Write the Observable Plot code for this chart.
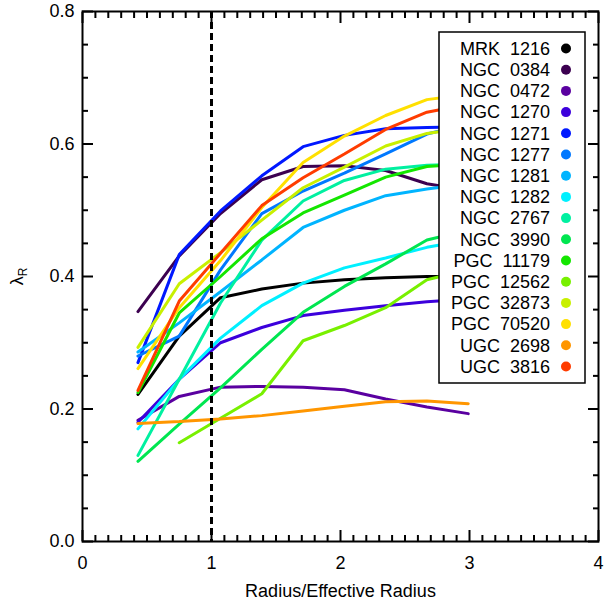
<!DOCTYPE html>
<html><head><meta charset="utf-8">
<script src="https://cdn.jsdelivr.net/npm/d3@7"></script>
<script src="https://cdn.jsdelivr.net/npm/@observablehq/plot@0.6"></script>
<style>body{margin:0;background:#fff}</style>
</head><body><div id="chart"></div>
<script>
// ---- data ----
const galaxies = ["MRK  1216","NGC  0384","NGC  0472","NGC  1270","NGC  1271","NGC  1277","NGC  1281","NGC  1282",
  "NGC  2767","NGC  3990","PGC  11179","PGC  12562","PGC  32873","PGC  70520","UGC  2698","UGC  3816"];
const colors = ["#000000","#3c0050","#5a00a0","#3c00dc","#0018ff","#0078ff","#00b4ff","#00f0ff",
  "#00f0a0","#00e650","#14e600","#78f000","#c8f000","#ffe000","#ff9600","#ff3c00"];
const radius = [0.43, 0.75, 1.07, 1.39, 1.71, 2.03, 2.35, 2.67, 2.99];
const mrk1216  = [0.222, 0.310, 0.368, 0.381, 0.390, 0.395, 0.398, 0.400, 0.400];
const ngc0384  = [0.347, 0.431, 0.495, 0.546, 0.566, 0.567, 0.560, 0.540, 0.530];
const ngc0472  = [0.183, 0.219, 0.233, 0.234, 0.233, 0.229, 0.215, 0.203, 0.193];
const ngc1270  = [0.180, 0.245, 0.300, 0.323, 0.341, 0.349, 0.356, 0.362, 0.366];
const ngc1271  = [0.270, 0.433, 0.499, 0.552, 0.596, 0.613, 0.623, 0.625, 0.626];
const ngc1277  = [0.280, 0.310, 0.410, 0.495, 0.529, 0.556, 0.585, 0.615, 0.630];
const ngc1281  = [0.286, 0.330, 0.377, 0.425, 0.474, 0.500, 0.522, 0.532, 0.540];
const ngc1282  = [0.170, 0.245, 0.307, 0.356, 0.390, 0.413, 0.428, 0.444, 0.455];
const ngc2767  = [0.130, 0.245, 0.360, 0.455, 0.514, 0.545, 0.562, 0.568, 0.570];
const ngc3990  = [0.121, 0.177, 0.232, 0.290, 0.346, 0.385, 0.419, 0.455, 0.470];
const pgc11179 = [0.225, 0.345, 0.400, 0.457, 0.496, 0.523, 0.550, 0.566, 0.570];
const pgc12562 = [null,  0.149, 0.186, 0.223, 0.303, 0.326, 0.353, 0.395, 0.410];
const pgc32873 = [0.293, 0.389, 0.436, 0.485, 0.534, 0.565, 0.597, 0.616, 0.625];
const pgc70520 = [0.261, 0.353, 0.424, 0.504, 0.572, 0.612, 0.643, 0.667, 0.675];
const ugc2698  = [0.178, 0.181, 0.185, 0.190, 0.197, 0.204, 0.211, 0.212, 0.208];
const ugc3816  = [0.228, 0.363, 0.435, 0.507, 0.549, 0.585, 0.622, 0.648, 0.660];
const series = [mrk1216, ngc0384, ngc0472, ngc1270, ngc1271, ngc1277, ngc1281, ngc1282,
  ngc2767, ngc3990, pgc11179, pgc12562, pgc32873, pgc70520, ugc2698, ugc3816];
const effRadius = [1];
const xTicks = [0, 1, 2, 3, 4];
const yTicks = [0, 0.2, 0.4, 0.6, 0.8];
const xMinor = d3.range(1, 40).map(d => d / 10).filter(d => Math.abs(d - Math.round(d)) > 1e-9);
const yMinor = d3.range(1, 16).filter(i => i % 4 !== 0).map(i => i / 20);

// ---- layout ----
const W = 604, H = 604, mL = 82, mR = 6, mT = 11, mB = 63;
const FONT = "'Liberation Sans', Arial, sans-serif";

const rows = [];
series.forEach((s, i) => s.forEach((v, j) => { if (v != null) rows.push({galaxy: galaxies[i], r: radius[j], lam: v}); }));

const noText = () => "";
const tk = {stroke: "black", strokeWidth: 2, label: null, tickFormat: noText};
const plot = Plot.plot({
  width: W, height: H, marginLeft: mL, marginRight: mR, marginTop: mT, marginBottom: mB,
  style: {fontFamily: FONT, fontSize: "18px", background: "#fff", color: "#000"},
  x: {domain: [0, 4]},
  y: {domain: [0, 0.8]},
  color: {domain: galaxies, range: colors},
  marks: [
    Plot.line(rows, {x: "r", y: "lam", z: "galaxy", stroke: "galaxy", strokeWidth: 3, strokeLinejoin: "miter"}),
    Plot.ruleX(effRadius, {x: d => d, stroke: "#000", strokeWidth: 3, strokeDasharray: "7,4"}),
    // inward ticks on all four sides (negative tick size points them into the frame)
    Plot.axisX({anchor: "bottom", ticks: xMinor, tickSize: -6, ...tk}),
    Plot.axisX({anchor: "bottom", ticks: xTicks, tickSize: -11, ...tk}),
    Plot.axisX({anchor: "top", ticks: xMinor, tickSize: -6, ...tk}),
    Plot.axisX({anchor: "top", ticks: xTicks, tickSize: -11, ...tk}),
    Plot.axisY({anchor: "left", ticks: yMinor, tickSize: -6, ...tk}),
    Plot.axisY({anchor: "left", ticks: yTicks, tickSize: -11, ...tk}),
    Plot.axisY({anchor: "right", ticks: yMinor, tickSize: -6, ...tk}),
    Plot.axisY({anchor: "right", ticks: yTicks, tickSize: -11, ...tk}),
    // tick labels and axis titles
    Plot.axisX({anchor: "bottom", ticks: xTicks, tickSize: 0, tickPadding: 15, tickFormat: d3.format("d"),
      label: "Radius/Effective Radius", labelAnchor: "center", labelOffset: 55}),
    Plot.axisY({anchor: "left", ticks: yTicks, tickSize: 0, tickPadding: 8, tickFormat: d3.format(".1f"),
      label: "λ", labelAnchor: "center", labelOffset: 72}),
    Plot.frame({stroke: "#000", strokeWidth: 2})
  ]
});

document.getElementById("chart").appendChild(plot);
const svg = d3.select(plot.tagName.toLowerCase() === "svg" ? plot : plot.querySelector("svg"));

// remove any arrow on the x label
svg.selectAll('g[aria-label="x-axis label"] text').each(function() {
  const t = d3.select(this);
  if (t.text().includes("Radius")) t.text("Radius/Effective Radius");
});
// subscript R for the y label
svg.selectAll('g[aria-label="y-axis label"] text').each(function() {
  const t = d3.select(this);
  if (t.text().includes("λ")) {
    t.text("λ");
    t.append("tspan").attr("font-size", 12).attr("dy", "0.35em").text("R");
  }
});

// legend box (top-right, inside the frame)
const lgX = 439, lgY = 32, lgW = 146, lgH = 351, rowH = 21.2;
const lg = svg.append("g").attr("font-family", FONT).attr("font-size", 18);
lg.append("rect").attr("x", lgX).attr("y", lgY).attr("width", lgW).attr("height", lgH)
  .attr("fill", "#fff").attr("stroke", "#000").attr("stroke-width", 1.5);
galaxies.forEach((g, i) => {
  const cy = lgY + 16.5 + i * rowH;
  lg.append("text").attr("x", lgX + 111).attr("y", cy).attr("text-anchor", "end")
    .attr("dy", "0.35em").style("white-space", "pre").attr("xml:space", "preserve").text(g);
  lg.append("circle").attr("cx", lgX + 127).attr("cy", cy).attr("r", 5).attr("fill", colors[i]);
});
</script>
</body></html>
